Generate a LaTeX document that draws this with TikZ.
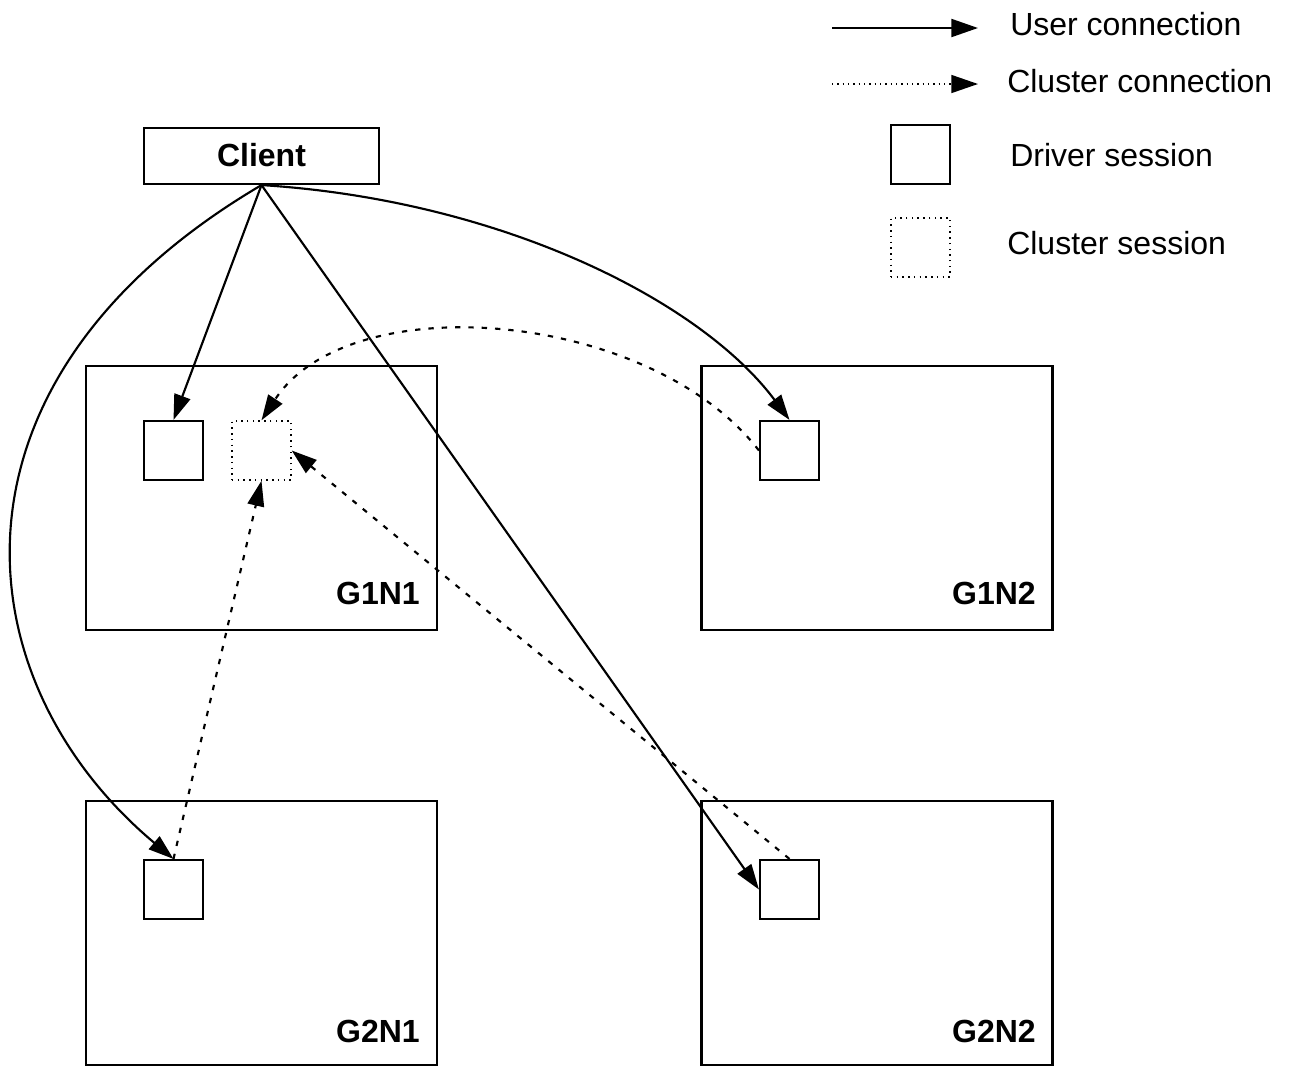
\documentclass[tikz,border=0pt]{standalone}
\usepackage{fontspec}
\setmainfont{Liberation Sans}
\usetikzlibrary{arrows.meta}
\begin{document}
\begin{tikzpicture}[x=0.75pt,y=-0.75pt,
  every node/.style={font=\fontsize{24}{28}\selectfont},
  nodebox/.style={draw,line width=1.6pt,minimum width=263.25pt,minimum height=198pt,inner sep=0pt},
  drv/.style={draw,line width=1.6pt,minimum width=44.25pt,minimum height=44.25pt,inner sep=0pt},
  cls/.style={draw,line width=1.1pt,dash pattern=on 1.1pt off 3.2pt,minimum width=44.25pt,minimum height=44.25pt,inner sep=0pt},
  lbl/.style={anchor=east,font=\fontsize{24}{28}\selectfont\bfseries,inner sep=0pt},
  leg/.style={anchor=west,inner sep=0pt},
  user/.style={line width=1.6pt,-{Triangle[length=19pt,width=12.5pt]}},
  clu/.style={line width=1.6pt,dash pattern=on 4pt off 6pt,-{Triangle[length=19pt,width=12.5pt]}},
  legtip/.style={-{Triangle[length=20pt,width=13.5pt]}}
]
\useasboundingbox (0,0) rectangle (1289,1065);
\begin{scope}
\clip (0,0) rectangle (1289,1065);
% boxes
\node[draw,line width=1.6pt,minimum width=176.25pt,minimum height=42pt,inner sep=0pt,font=\fontsize{24}{28}\selectfont\bfseries] (client) at (261.5,156) {\raisebox{2pt}{Client}};
\node[nodebox] (g1n1) at (261.5,498) {};
\node[nodebox] (g1n2) at (877,498) {};
\node[nodebox] (g2n1) at (261.5,933) {};
\node[nodebox] (g2n2) at (877,933) {};
\node[lbl] (t11) at (420,593) {G1N1};
\node[lbl] (t12) at (1036,593) {G1N2};
\node[lbl] (t21) at (420,1031) {G2N1};
\node[lbl] (t22) at (1036,1031) {G2N2};
% sessions
\node[drv] (d11) at (173.5,450.5) {};
\node[cls] (c11) at (261.5,450.5) {};
\node[drv] (d12) at (789.5,450.5) {};
\node[drv] (d21) at (173.5,889.5) {};
\node[drv] (d22) at (789.5,889.5) {};
% user connections
\draw[user] (client.south) -- (d11.north);
\draw[user] (client.south) -- (d22.west);
\draw[user] (client.south) .. controls (500,200) and (700,300) .. (d12.north);
\draw[user] (client.south) .. controls (-70,380) and (-40,680) .. (d21.north);
% cluster connections
\draw[clu] (d12.west) .. controls (650,310) and (350,285) .. (c11.north);
\draw[clu] (d21.north) -- (c11.south);
\draw[clu] (d22.north) -- (c11.east);
\end{scope}
% legend
\coordinate (l1a) at (832,28);
\coordinate (l1b) at (978,28);
\coordinate (l2a) at (832,84);
\coordinate (l2b) at (978,84);
\draw[line width=1.6pt,legtip] (l1a) -- (l1b);
\draw[line width=1.1pt,dash pattern=on 1.1pt off 2.9pt,legtip] (l2a) -- (l2b);
\node[drv] (ld) at (920.5,154.5) {};
\node[cls] (lc) at (920.5,247.5) {};
\node[leg] (tu) at (1010,24) {User connection};
\node[leg] (tc) at (1007,81) {Cluster connection};
\node[leg] (td) at (1010,155) {Driver session};
\node[leg] (ts) at (1007,243) {Cluster session};
\end{tikzpicture}
\end{document}
